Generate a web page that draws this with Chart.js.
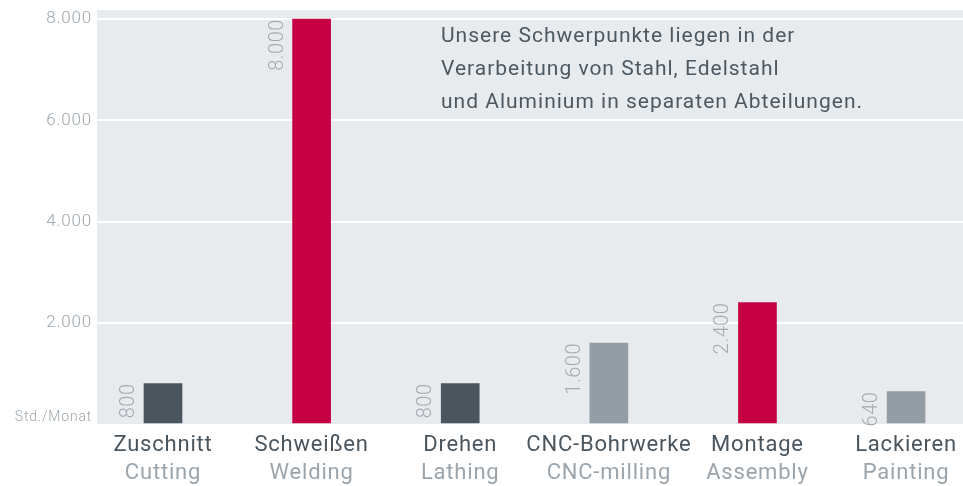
<!DOCTYPE html>
<html>
<head>
<meta charset="utf-8">
<script src="https://cdn.jsdelivr.net/npm/chart.js@4"></script>
<style>
  body { margin: 0; background: #fff; }
  #wrap { width: 963px; height: 486px; position: relative; }
</style>
</head>
<body>
<div id="wrap"><canvas id="chart"></canvas></div>
<script>
const categories = ['Zuschnitt', 'Schweißen', 'Drehen', 'CNC-Bohrwerke', 'Montage', 'Lackieren'];
const categoriesEn = ['Cutting', 'Welding', 'Lathing', 'CNC-milling', 'Assembly', 'Painting'];
const hours = [800, 8000, 800, 1600, 2400, 640];
const yTicks = [0, 2000, 4000, 6000, 8000];
const unitLabel = 'Std./Monat';
const note = ['Unsere Schwerpunkte liegen in der', 'Verarbeitung von Stahl, Edelstahl', 'und Aluminium in separaten Abteilungen.'];

const dark = '#4a555e', red = '#c40043', grey = '#939da4';
const barColors = [dark, red, dark, grey, red, grey];

function fmt(v) {
    return String(v).replace(/\B(?=(\d{3})+(?!\d))/g, '.');
}

// hintergrund vom plot + text oben rechts + werte an den balken
const extras = {
    id: 'extras',
    beforeDraw(c) {
        const a = c.chartArea, ctx = c.ctx;
        ctx.save();
        ctx.fillStyle = '#e8ebee';
        ctx.fillRect(a.left, a.top, a.right - a.left, a.bottom - a.top);
        ctx.restore();
        ctx.letterSpacing = '0.8px'; // DIN-artige laufweite fuer die achsen
    },
    afterDatasetsDraw(c) {
        const ctx = c.ctx;
        ctx.save();
        ctx.letterSpacing = '0.5px';
        ctx.font = '300 20px Roboto';
        ctx.fillStyle = '#a3abb1';
        ctx.textAlign = 'right';
        ctx.textBaseline = 'alphabetic';
        c.getDatasetMeta(0).data.forEach((bar, i) => {
            ctx.save();
            ctx.translate(bar.x - bar.width / 2 - 10, bar.y);
            ctx.rotate(-Math.PI / 2);
            ctx.fillText(fmt(hours[i]), 0, 0);
            ctx.restore();
        });
        ctx.letterSpacing = '1px';
        ctx.font = '21px Roboto';
        ctx.fillStyle = '#4d5860';
        ctx.textAlign = 'left';
        ctx.textBaseline = 'middle';
        note.forEach((line, i) => ctx.fillText(line, 441, 37 + i * 33));
        ctx.restore();
    }
};

function catTicks(scale) {
    scale.ticks = categories.map((c, i) => ({ value: i }));
}
function noPad(s) {
    s.paddingLeft = 0; s.paddingRight = 0; s.paddingTop = 0; s.paddingBottom = 0;
}

new Chart(document.getElementById('chart'), {
    type: 'bar',
    data: {
        datasets: [{
            data: hours.map((v, i) => ({ x: i, y: v })),
            backgroundColor: barColors,
            barThickness: 38,
            xAxisID: 'x',
            yAxisID: 'y'
        }]
    },
    options: {
        responsive: true,
        maintainAspectRatio: false,
        animation: false,
        layout: { padding: { top: 10, right: 0, left: 0, bottom: 0 } },
        plugins: { legend: { display: false }, tooltip: { enabled: false } },
        scales: {
            x: {
                type: 'linear',
                position: 'bottom',
                offset: false,
                min: -0.444,
                max: 5.383,
                grid: { display: false, drawTicks: false },
                border: { display: false },
                afterBuildTicks: catTicks,
                afterFit: s => { s.height = 34; noPad(s); },
                ticks: {
                    callback: v => categories[v],
                    color: '#4a555e',
                    font: { family: 'Roboto', size: 22 },
                    padding: 8,
                    maxRotation: 0,
                    autoSkip: false
                }
            },
            x2: {
                type: 'linear',
                position: 'bottom',
                offset: false,
                min: -0.444,
                max: 5.383,
                grid: { display: false, drawTicks: false },
                border: { display: false },
                afterBuildTicks: catTicks,
                afterFit: s => { s.height = 28; noPad(s); },
                ticks: {
                    callback: v => categoriesEn[v],
                    color: '#9ba4ab',
                    font: { family: 'Roboto', size: 22 },
                    padding: 2,
                    maxRotation: 0,
                    autoSkip: false
                }
            },
            y: {
                min: 0,
                max: 8180,
                afterBuildTicks: s => { s.ticks = yTicks.map(v => ({ value: v })); },
                afterFit: s => { s.width = 97; noPad(s); },
                border: { display: false },
                grid: {
                    color: ctx => ctx.tick && ctx.tick.value === 0 ? 'rgba(0,0,0,0)' : '#ffffff',
                    lineWidth: 2,
                    drawTicks: false
                },
                ticks: {
                    callback: v => v === 0 ? [unitLabel, ''] : fmt(v),
                    color: '#9da6ad',
                    font: ctx => ctx.tick && ctx.tick.value === 0
                        ? { family: 'Roboto', size: 14, weight: 300, lineHeight: 0.9 }
                        : { family: 'Roboto', size: 17, weight: 300 },
                    padding: 5
                }
            }
        }
    },
    plugins: [extras]
});
</script>
</body>
</html>
